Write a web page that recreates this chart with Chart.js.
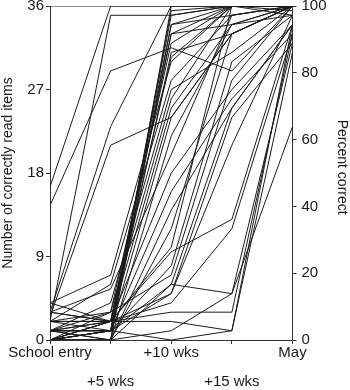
<!DOCTYPE html>
<html><head><meta charset="utf-8">
<script src="https://cdn.jsdelivr.net/npm/chart.js@4"></script>
<style>html,body{margin:0;padding:0;background:#fff}</style>
</head><body>
<canvas id="c" width="350" height="390"></canvas>
<script>
// Time points
const categories = ['School entry', '+5 wks', '+10 wks', '+15 wks', 'May'];
const leftTicks = [0, 9, 18, 27, 36];
const rightTicks = [0, 20, 40, 60, 80, 100];

// Children's scores (number of correctly read items, 0-36) at each time point
const ceilingChildren = [
  [36, 36, 36, 36, 36]
];
const earlyRisers = [
  [16.5, 36, 36, 36, 36],
  [14.5, 29, 31.5, 29, 36],
  [2, 35, 35, 36, 36],
  [3, 23, 36, 36, 36],
  [2.5, 21, 24, 33, 36]
];
const tenWeekRisers = [
  [0, 0, 36, 36, 36],
  [1, 1, 35.5, 36, 36],
  [0, 1, 35, 36, 36],
  [2, 2, 34, 36, 36],
  [1, 0, 34, 35, 36],
  [0, 1, 33, 36, 36],
  [3, 2, 33, 34, 36],
  [1, 3, 32, 36, 35.5],
  [2, 1, 31, 33, 36],
  [0, 2, 30.5, 36, 35],
  [4, 7, 30, 36, 36],
  [2, 6, 28, 35, 36],
  [1, 4, 27, 31, 36],
  [0, 3, 26, 36, 36],
  [2, 2, 25, 34, 35],
  [1, 1, 24, 33, 36],
  [0, 0, 22, 34, 36],
  [3, 5.5, 20, 35, 36],
  [1, 2, 18, 27, 34],
  [0, 1, 16, 26, 33],
  [0, 0, 14, 25, 34]
];
const fifteenWeekRisers = [
  [0, 0, 12, 33, 36],
  [1, 2, 10, 36, 36],
  [0, 1, 8, 30, 35],
  [2, 3, 7, 28, 36],
  [1, 1, 6, 25, 34],
  [0, 2, 5, 24, 32],
  [4, 2, 9.5, 13, 34],
  [3, 2, 4, 12, 33],
  [1, 1, 5, 21, 35]
];
const lateRisers = [
  [0, 0, 6, 5, 32],
  [2, 2, 3, 3, 33],
  [0, 1, 0, 1, 34],
  [1, 0, 1, 5, 23],
  [0, 2, 2, 1, 31]
];

const allSeries = [].concat(ceilingChildren, earlyRisers, tenWeekRisers, fifteenWeekRisers, lateRisers);

const datasets = allSeries.map(s => ({
  data: s.map((v, i) => ({x: i, y: v})),
  borderColor: '#1c1c1c',
  borderWidth: 1,
  pointRadius: 0,
  fill: false,
  tension: 0,
  yAxisID: 'y'
}));

const txt = '#1a1a1a';
const axisCol = '#333';
const fam = "'Liberation Sans', Arial, sans-serif";

new Chart(document.getElementById('c').getContext('2d'), {
  type: 'line',
  data: {datasets},
  options: {
    responsive: false,
    animation: false,
    devicePixelRatio: 1,
    plugins: {legend: {display: false}, tooltip: {enabled: false}},
    layout: {padding: {top: 6, left: 0, right: 0, bottom: 0}},
    scales: {
      x: {
        type: 'linear', min: 0, max: categories.length - 1,
        ticks: {
          stepSize: 1, autoSkip: false, maxRotation: 0, padding: -5.5, color: txt,
          font: {family: fam, size: 15, lineHeight: '29px'},
          callback: v => (v % 2 === 1 ? ['', categories[v]] : categories[v])
        },
        grid: {drawOnChartArea: false, tickLength: 4, color: axisCol},
        border: {color: axisCol, width: 1},
        afterFit: s => { s.height = 50; s.paddingLeft = 0; s.paddingRight = 0; }
      },
      y: {
        position: 'left', min: 0, max: 36,
        afterBuildTicks: s => { s.ticks = leftTicks.map(v => ({value: v})); },
        ticks: {padding: 2, color: txt, font: {family: fam, size: 15}},
        grid: {drawOnChartArea: false, tickLength: 4, color: axisCol},
        border: {color: axisCol, width: 1},
        title: {display: true, text: 'Number of correctly read items', color: txt, padding: 0,
                font: {family: fam, size: 14}},
        afterFit: s => { s.width = 50; s.paddingTop = 0; s.paddingBottom = 0; }
      },
      y2: {
        position: 'right', min: 0, max: 100,
        afterBuildTicks: s => { s.ticks = rightTicks.map(v => ({value: v})); },
        ticks: {padding: 5, color: txt, font: {family: fam, size: 15}},
        grid: {drawOnChartArea: false, tickLength: 4, color: axisCol},
        border: {color: axisCol, width: 1},
        title: {display: true, text: 'Percent correct\u00a0\u00a0\u00a0', color: txt, padding: 0,
                font: {family: fam, size: 14}},
        afterFit: s => { s.width = 57.5; s.paddingTop = 0; s.paddingBottom = 0; }
      }
    }
  }
});
</script>
</body></html>
